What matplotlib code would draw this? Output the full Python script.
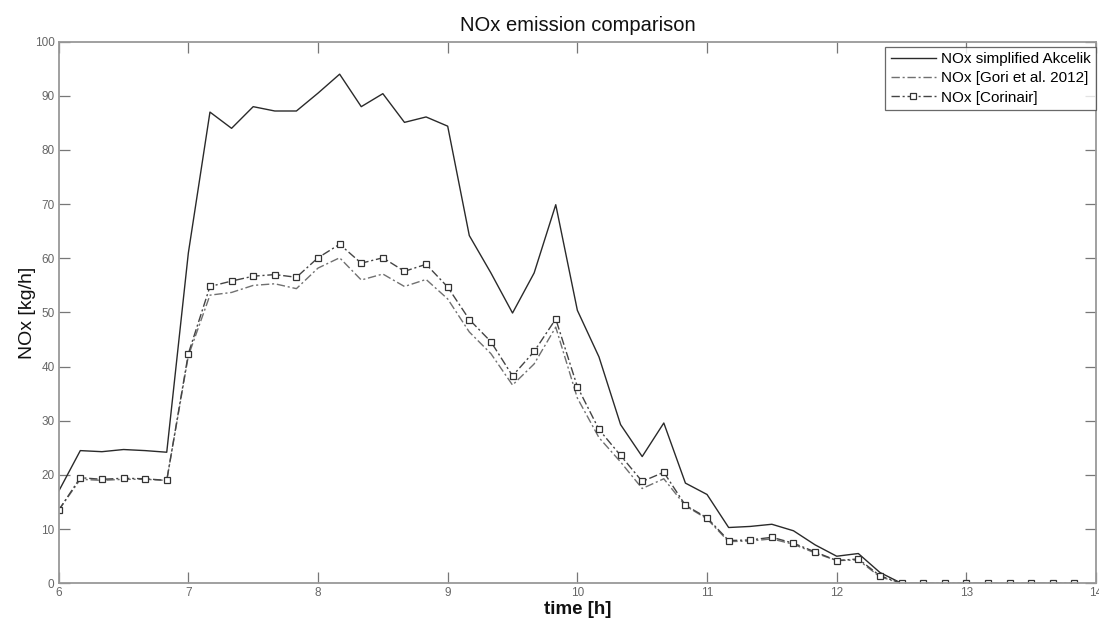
import numpy as np
import matplotlib
matplotlib.use("Agg")
import matplotlib.pyplot as plt

plt.rcParams['font.family'] = ['Liberation Sans', 'DejaVu Sans']

time_h = [6 + i / 6 for i in range(48)]

akcelik = [17.0, 24.5, 24.3, 24.7, 24.5, 24.2, 61.0, 87.0, 84.0, 88.0, 87.2, 87.2,
           90.5, 94.0, 88.0, 90.4, 85.1, 86.1, 84.4, 64.2, 57.3, 49.9, 57.3, 69.9,
           50.4, 41.8, 29.3, 23.4, 29.6, 18.5, 16.4, 10.3, 10.5, 10.9, 9.7, 7.1,
           5.0, 5.5, 2.0, 0, 0, 0, 0, 0, 0, 0, 0, 0]

gori = [13.5, 19.2, 19.0, 19.2, 19.2, 19.0, 42.0, 53.2, 53.7, 55.0, 55.3, 54.4,
        58.2, 60.1, 56.0, 57.1, 54.8, 56.1, 52.5, 46.4, 42.4, 36.6, 40.5, 47.3,
        34.2, 26.9, 22.4, 17.5, 19.3, 14.3, 11.9, 7.7, 7.8, 8.2, 7.2, 5.6,
        4.2, 4.3, 1.2, 0, 0, 0, 0, 0, 0, 0, 0, 0]

corinair = [13.5, 19.5, 19.2, 19.4, 19.3, 19.0, 42.4, 54.8, 55.8, 56.7, 57.0, 56.5,
            60.1, 62.6, 59.1, 60.1, 57.6, 58.9, 54.7, 48.7, 44.6, 38.3, 42.8, 48.8,
            36.3, 28.4, 23.6, 18.8, 20.5, 14.4, 12.1, 7.9, 8.0, 8.5, 7.4, 5.8,
            4.2, 4.5, 1.4, 0, 0, 0, 0, 0, 0, 0, 0, 0]

series_labels = ['NOx simplified Akcelik', 'NOx [Gori et al. 2012]', 'NOx [Corinair]']
x_ticks = [6, 7, 8, 9, 10, 11, 12, 13, 14]
y_ticks = [0, 10, 20, 30, 40, 50, 60, 70, 80, 90, 100]

fig = plt.figure(figsize=(10.99, 6.21), dpi=100)
ax = fig.add_axes([0.0534, 0.0607, 0.9439, 0.8722])

ax.plot(time_h, akcelik, color='#2a2a2a', lw=1.0, ls='-', label=series_labels[0])
ax.plot(time_h, gori, color='#707070', lw=1.0, ls=(0, (6, 2, 1.5, 2)), label=series_labels[1])
ax.plot(time_h, corinair, color='#444444', lw=1.0, ls=(0, (6, 2, 1.5, 2)),
        marker='s', markersize=4, markerfacecolor='white', markeredgecolor='#333333',
        markeredgewidth=0.9, label=series_labels[2])

ax.set_xlim(6, 14)
ax.set_ylim(0, 100)
ax.set_xticks(x_ticks)
ax.set_yticks(y_ticks)
tick_font = ['Liberation Sans Narrow', 'Liberation Sans', 'DejaVu Sans']
ax.set_xticklabels([str(t) for t in x_ticks], family=tick_font, fontsize=8.5, color='#666666')
ax.set_yticklabels([str(t) for t in y_ticks], family=tick_font, fontsize=8.5, color='#666666')
ax.tick_params(direction='in', top=True, right=True, length=8, width=0.9, color='#777777', pad=3)
for sp in ax.spines.values():
    sp.set_color('#999999')
    sp.set_linewidth(1.3)

ax.set_title('NOx emission comparison', fontsize=14.5, color='#111111', pad=8)
ax.set_xlabel('time [h]', fontsize=13.5, color='#111111', labelpad=1, family=tick_font, fontweight='bold')
ax.set_ylabel('NOx [kg/h]', fontsize=14, color='#111111', labelpad=-1)

leg = ax.legend(loc='upper right', fontsize=11, frameon=True, fancybox=False,
                edgecolor='#444444', borderpad=0.35, labelspacing=0.35,
                handlelength=3.0, handletextpad=0.3, borderaxespad=0.0,
                bbox_to_anchor=(1.0, 0.991))
leg.get_frame().set_linewidth(0.9)

fig.savefig('out.png', dpi=100)
